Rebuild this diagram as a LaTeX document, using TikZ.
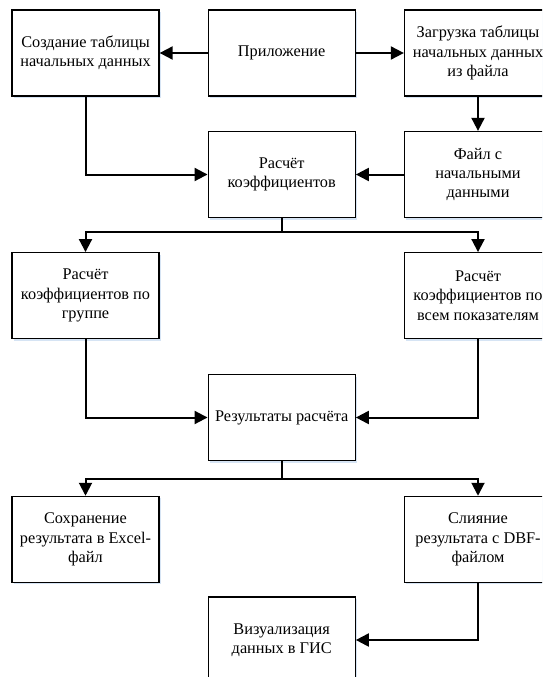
\documentclass[tikz,border=0pt]{standalone}
\usepackage{fontspec}
\setmainfont{Liberation Serif}
\usetikzlibrary{arrows.meta,shadows}
\definecolor{shadowblue}{RGB}{214,228,244}
\tikzset{
  box/.style={draw=black, line width=1.3pt, fill=white, minimum width=147pt, minimum height=86pt,
    inner sep=0pt, align=center, font=\fontsize{16.3pt}{19.3pt}\selectfont,
    drop shadow={shadow xshift=1.5pt, shadow yshift=-2pt, fill=shadowblue, opacity=1}},
  conn/.style={line width=2pt, -{Triangle[length=13pt,width=13pt]}},
  line/.style={line width=2pt}
}
\begin{document}
\begin{tikzpicture}[x=1pt,y=-1pt]
\useasboundingbox (0,0) rectangle (542,677);
\clip (0,0) rectangle (542,677);
% nodes
\node[box] (sozd) at (85.5,53) {Создание таблицы\\начальных данных};
\node[box] (app) at (281.7,53) {Приложение};
\node[box] (zagr) at (478,53) {Загрузка таблицы\\начальных данных\\из файла};
\node[box] (rasch) at (281.7,174.5) {Расчёт\\коэффициентов};
\node[box] (fail) at (478,174.5) {Файл с\\начальными\\данными};
\node[box] (grp) at (85.5,295.7) {Расчёт\\коэффициентов по\\группе};
\node[box] (vse) at (478,295.7) {Расчёт\\коэффициентов по\\всем показателям};
\node[box] (res) at (281.7,417.5) {Результаты расчёта};
\node[box] (excel) at (85.5,539.4) {Сохранение\\результата в Excel-\\файл};
\node[box] (dbf) at (478,539.4) {Слияние\\результата с DBF-\\файлом};
\node[box] (viz) at (281.7,640) {Визуализация\\данных в ГИС};
% split points
\coordinate (s1) at (281.7,232.3);
\coordinate (s2) at (281.7,479);
% connectors
\draw[conn] (app.west) -- (sozd.east);
\draw[conn] (app.east) -- (zagr.west);
\draw[conn] (zagr.south) -- (fail.north);
\draw[conn] (sozd.south) |- (rasch.west);
\draw[conn] (fail.west) -- (rasch.east);
\draw[line] (rasch.south) -- (s1);
\draw[conn] (s1) -| (grp.north);
\draw[conn] (s1) -| (vse.north);
\draw[conn] (grp.south) |- (res.west);
\draw[conn] (vse.south) |- (res.east);
\draw[line] (res.south) -- (s2);
\draw[conn] (s2) -| (excel.north);
\draw[conn] (s2) -| (dbf.north);
\draw[conn] (dbf.south) |- (viz.east);
\end{tikzpicture}
\end{document}
